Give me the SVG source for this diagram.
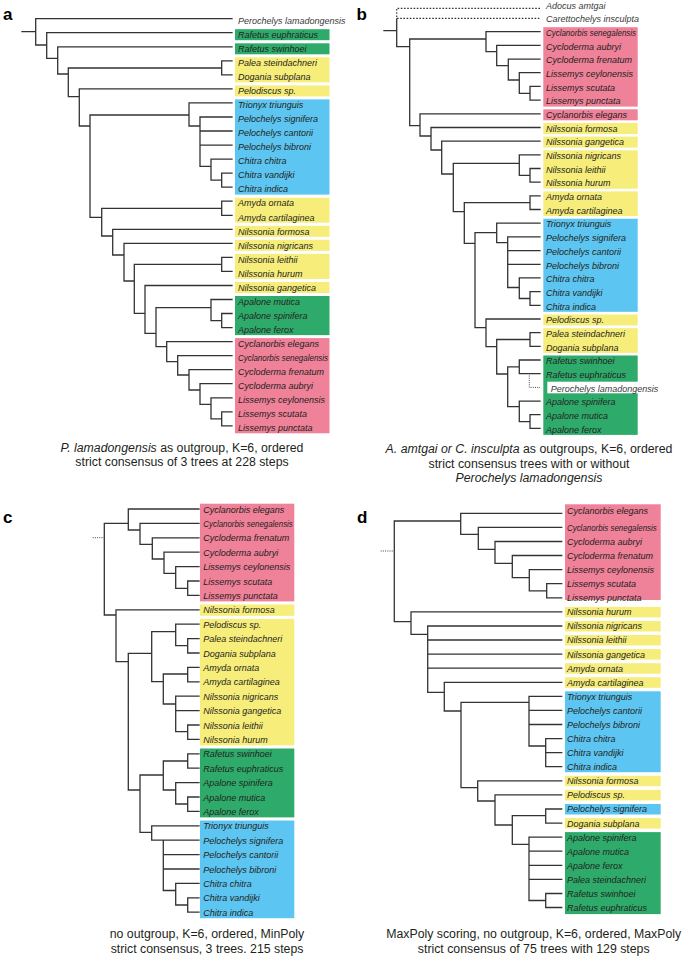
<svg xmlns="http://www.w3.org/2000/svg" width="685" height="958" viewBox="0 0 685 958">
<style>
.bg{fill:#fff}
.gr{fill:#2eab6b}.ye{fill:#f7ed7b}.bl{fill:#5dc5f1}.pk{fill:#ef8199}
.t{font-family:"Liberation Sans",Arial,sans-serif;font-style:italic;font-size:9px;fill:#231f20}
.tg{font-family:"Liberation Sans",Arial,sans-serif;font-style:italic;font-size:9px;fill:#3a3a3a}
.cap{font-family:"Liberation Sans",Arial,sans-serif;font-size:12.3px;fill:#231f20;text-anchor:middle}
.lab{font-family:"Liberation Sans",Arial,sans-serif;font-size:17px;font-weight:bold;fill:#000}
.br{fill:none;stroke:#333;stroke-width:1.3;stroke-linecap:square;stroke-linejoin:miter}
.dt{fill:none;stroke:#333;stroke-width:1.2;stroke-dasharray:1.6 1.6}
.df{fill:none;stroke:#444;stroke-width:1;stroke-dasharray:1 1.2}
</style>
<rect class="bg" x="0" y="0" width="685" height="958"/>

<!-- panel labels -->
<text class="lab" x="3" y="20">a</text>
<text class="lab" x="356.5" y="20">b</text>
<text class="lab" x="3" y="523">c</text>
<text class="lab" x="357" y="523">d</text>

<!-- clade highlight boxes -->
<g id="boxes-a">
<rect class="gr" x="235" y="29.2" width="94.5" height="11"/>
<rect class="gr" x="235" y="43.3" width="94.5" height="11"/>
<rect class="ye" x="235" y="57.3" width="94.5" height="25"/>
<rect class="ye" x="235" y="85.4" width="94.5" height="11"/>
<rect class="bl" x="235" y="99.4" width="94.5" height="95.2"/>
<rect class="ye" x="235" y="197.7" width="94.5" height="25"/>
<rect class="ye" x="235" y="225.8" width="94.5" height="11"/>
<rect class="ye" x="235" y="239.8" width="94.5" height="11"/>
<rect class="ye" x="235" y="253.9" width="94.5" height="25"/>
<rect class="ye" x="235" y="282" width="94.5" height="11"/>
<rect class="gr" x="235" y="296" width="94.5" height="39.1"/>
<rect class="pk" x="235" y="338.1" width="94.5" height="95.2"/>
</g>
<g id="boxes-b">
<rect class="pk" x="543.3" y="27.2" width="94.4" height="79.4"/>
<rect class="pk" x="543.3" y="109.3" width="94.4" height="11"/>
<rect class="ye" x="543.3" y="123" width="94.4" height="11"/>
<rect class="ye" x="543.3" y="136.6" width="94.4" height="11"/>
<rect class="ye" x="543.3" y="150.3" width="94.4" height="38.4"/>
<rect class="ye" x="543.3" y="191.4" width="94.4" height="24.7"/>
<rect class="bl" x="543.3" y="218.7" width="94.4" height="93.1"/>
<rect class="ye" x="543.3" y="314.5" width="94.4" height="11"/>
<rect class="ye" x="543.3" y="328.2" width="94.4" height="24.7"/>
<rect class="gr" x="543.3" y="355.5" width="94.4" height="79.4"/>
<rect fill="#fff" x="547.3" y="381.7" width="111" height="11.6"/>
</g>
<g id="boxes-c">
<rect class="pk" x="200" y="503.7" width="94.3" height="97.7"/>
<rect class="ye" x="200" y="604.5" width="94.3" height="11.3"/>
<rect class="ye" x="200" y="618.9" width="94.3" height="126.5"/>
<rect class="gr" x="200" y="748.5" width="94.3" height="68.9"/>
<rect class="bl" x="200" y="820.5" width="94.3" height="97.7"/>
</g>
<g id="boxes-d">
<rect class="pk" x="565" y="504.3" width="95.7" height="95.7"/>
<rect class="ye" x="565" y="606.9" width="95.7" height="10.5"/>
<rect class="ye" x="565" y="621" width="95.7" height="10.5"/>
<rect class="ye" x="565" y="635" width="95.7" height="10.5"/>
<rect class="ye" x="565" y="649.1" width="95.7" height="10.5"/>
<rect class="ye" x="565" y="663.2" width="95.7" height="10.5"/>
<rect class="ye" x="565" y="677.3" width="95.7" height="10.5"/>
<rect class="bl" x="565" y="691.3" width="95.7" height="80.9"/>
<rect class="ye" x="565" y="775.8" width="95.7" height="10.5"/>
<rect class="ye" x="565" y="789.9" width="95.7" height="10.5"/>
<rect class="bl" x="565" y="804" width="95.7" height="10.5"/>
<rect class="ye" x="565" y="818.1" width="95.7" height="10.5"/>
<rect class="gr" x="565" y="832.1" width="95.7" height="82"/>
</g>

<!-- connectors -->
<g id="connectors">
<path class="br" d="M22 31.7 H35.7 M232 18.7 H35.7 V45 H46.7 M232 32.7 H46.7 V58.3 H57.7 M232 46.8 H57.7 V74 H68.3 M221.7 68 H68.3 V96.7 H79.3 M232 60.8 H221.7 V74.9 H232 M232 88.9 H79.3 V126 H90 M189 115 H90 V217.3 H101.7 M232 102.9 H189 V126 H200 M232 117 H200 V166.3 H211 M200 131 H232 M200 145.1 H232 M232 159.1 H211 V180.2 H221.7 M232 173.1 H221.7 V187.2 H232 M221.7 208.3 H101.7 V236 H112.7 M232 201.2 H221.7 V215.3 H232 M232 229.3 H112.7 V255 H124 M232 243.3 H124 V281 H134.3 M221.7 264.4 H134.3 V313.3 H145 M232 257.4 H221.7 V271.4 H232 M232 285.5 H145 V333.3 H156 M211 307.7 H156 V346.7 H166.7 M232 299.5 H211 V320.6 H221.7 M232 313.5 H221.7 V327.6 H232 M232 341.6 H166.7 V361.7 H177.7 M232 355.7 H177.7 V375 H189 M232 369.7 H189 V390 H200 M232 383.7 H200 V404.3 H211 M232 397.8 H211 V418.8 H221.7 M232 411.8 H221.7 V425.9 H232"/>
<path class="dt" d="M540 8.3 H396.7 V18.3 H540"/>
<path class="br" d="M384 30.7 H396.7 M396.7 19 V46.7 H409.7 M486 39 H409.7 V125.7 H420 M540 31.7 H486 V51.7 H496.7 M540 45.4 H496.7 V65.7 H508.3 M540 59.1 H508.3 V80 H519.3 M540 72.7 H519.3 V93.3 H530 M540 86.4 H530 V100.1 H540 M540 113.8 H420 V136 H431 M540 127.5 H431 V150 H441.7 M540 141.1 H441.7 V174 H453.3 M519.3 163.3 H453.3 V211.7 H464.3 M540 154.8 H519.3 V175.3 H530 M540 168.5 H530 V182.2 H540 M530 202.7 H464.3 V243.3 H475 M540 195.9 H530 V209.5 H540 M496.7 232.7 H475 V327.7 H486 M540 223.2 H496.7 V242.7 H507.7 M540 236.9 H507.7 V287.5 H519.3 M507.7 250.6 H540 M507.7 264.3 H540 M540 277.9 H519.3 V298.5 H530 M540 291.6 H530 V305.3 H540 M540 319 H486 V346.7 H496.7 M530 339.5 H496.7 V374 H507.7 M540 332.7 H530 V346.3 H540 M519.3 366.9 H507.7 V406.7 H519.3 M540 360 H519.3 V373.7 H540 M540 401.1 H519.3 V421.6 H530 M540 414.7 H530 V428.4 H540"/>
<path class="df" d="M529.3 375.5 V387.4 H540"/>
<path class="df" d="M92.7 537.7 H104"/>
<path class="br" d="M128.3 523.3 H104.3 V615 H116 M199 509 H128.3 V530 H140 M199 523.4 H140 V544.3 H152.3 M199 537.8 H152.3 V559 H164 M199 552.2 H164 V573.3 H175.7 M199 566.6 H175.7 V588.3 H187.7 M199 581 H187.7 V595.4 H199 M199 609.8 H116 V661.7 H128.3 M151.7 653.3 H128.3 V790 H140 M175.7 631.7 H151.7 V681.7 H163.3 M199 624.2 H175.7 V645.7 H187.7 M199 638.6 H187.7 V653 H199 M187.7 674 H163.3 V704 H175.7 M199 667.4 H187.7 V681.8 H199 M199 696.2 H175.7 V731.7 H187.7 M175.7 710.6 H199 M199 725 H187.7 V739.4 H199 M163.3 775 H140 V832.3 H151.7 M187.7 761 H163.3 V790 H175.7 M199 753.8 H187.7 V768.2 H199 M199 782.6 H175.7 V804 H187.7 M199 797 H187.7 V811.4 H199 M199 825.8 H151.7 V840.2 H163.3 M199 840.2 H163.3 V890.5 H175.7 M163.3 854.6 H199 M163.3 869 H199 M199 883.4 H175.7 V905 H187.7 M199 897.8 H187.7 V912.2 H199"/>
<path class="df" d="M380.7 551 H394"/>
<path class="br" d="M460.7 521 H394.3 V621.7 H411 M561.7 513.3 H460.7 V534.3 H478.3 M561.7 527.4 H478.3 V549.3 H495 M561.7 541.5 H495 V563.3 H512.3 M561.7 555.5 H512.3 V577.7 H529.3 M561.7 569.6 H529.3 V590.8 H546.7 M561.7 583.7 H546.7 V597.8 H561.7 M561.7 611.9 H411 V634.3 H427.7 M561.7 626 H427.7 V692.3 H444.3 M427.7 640 H561.7 M427.7 654.1 H561.7 M427.7 668.2 H561.7 M561.7 682.3 H444.3 V711 H461 M529 702.3 H461 V787.7 H477.7 M561.7 696.3 H529 V746 H545.7 M529 710.4 H561.7 M529 724.5 H561.7 M561.7 738.6 H545.7 V766.7 H561.7 M545.7 752.7 H561.7 M561.7 780.8 H477.7 V801 H495 M561.7 794.9 H495 V825 H512.3 M545.7 815.7 H512.3 V844.3 H529 M561.7 809 H545.7 V823.1 H561.7 M561.7 837.1 H529 V900.5 H545.7 M529 851.2 H561.7 M529 865.3 H561.7 M529 879.4 H561.7 M561.7 893.5 H545.7 V907.5 H561.7"/>
</g>

<!-- panel a taxa -->
<g id="a-perochelys-lamadongensis"><text class="tg" x="238" y="23.9">Perochelys lamadongensis</text></g>
<g id="a-rafetus-euphraticus"><text class="t" x="238" y="37.9">Rafetus euphraticus</text></g>
<g id="a-rafetus-swinhoei"><text class="t" x="238" y="52">Rafetus swinhoei</text></g>
<g id="a-palea-steindachneri"><text class="t" x="238" y="66">Palea steindachneri</text></g>
<g id="a-dogania-subplana"><text class="t" x="238" y="80.1">Dogania subplana</text></g>
<g id="a-pelodiscus-sp"><text class="t" x="238" y="94.1">Pelodiscus sp.</text></g>
<g id="a-trionyx-triunguis"><text class="t" x="238" y="108.1">Trionyx triunguis</text></g>
<g id="a-pelochelys-signifera"><text class="t" x="238" y="122.2">Pelochelys signifera</text></g>
<g id="a-pelochelys-cantorii"><text class="t" x="238" y="136.2">Pelochelys cantorii</text></g>
<g id="a-pelochelys-bibroni"><text class="t" x="238" y="150.3">Pelochelys bibroni</text></g>
<g id="a-chitra-chitra"><text class="t" x="238" y="164.3">Chitra chitra</text></g>
<g id="a-chitra-vandijki"><text class="t" x="238" y="178.3">Chitra vandijki</text></g>
<g id="a-chitra-indica"><text class="t" x="238" y="192.4">Chitra indica</text></g>
<g id="a-amyda-ornata"><text class="t" x="238" y="206.4">Amyda ornata</text></g>
<g id="a-amyda-cartilaginea"><text class="t" x="238" y="220.5">Amyda cartilaginea</text></g>
<g id="a-nilssonia-formosa"><text class="t" x="238" y="234.5">Nilssonia formosa</text></g>
<g id="a-nilssonia-nigricans"><text class="t" x="238" y="248.5">Nilssonia nigricans</text></g>
<g id="a-nilssonia-leithii"><text class="t" x="238" y="262.6">Nilssonia leithii</text></g>
<g id="a-nilssonia-hurum"><text class="t" x="238" y="276.6">Nilssonia hurum</text></g>
<g id="a-nilssonia-gangetica"><text class="t" x="238" y="290.7">Nilssonia gangetica</text></g>
<g id="a-apalone-mutica"><text class="t" x="238" y="304.7">Apalone mutica</text></g>
<g id="a-apalone-spinifera"><text class="t" x="238" y="318.7">Apalone spinifera</text></g>
<g id="a-apalone-ferox"><text class="t" x="238" y="332.8">Apalone ferox</text></g>
<g id="a-cyclanorbis-elegans"><text class="t" x="238" y="346.8">Cyclanorbis elegans</text></g>
<g id="a-cyclanorbis-senegalensis"><text class="t" x="238" y="360.9" textLength="90" lengthAdjust="spacingAndGlyphs">Cyclanorbis senegalensis</text></g>
<g id="a-cycloderma-frenatum"><text class="t" x="238" y="374.9">Cycloderma frenatum</text></g>
<g id="a-cycloderma-aubryi"><text class="t" x="238" y="388.9">Cycloderma aubryi</text></g>
<g id="a-lissemys-ceylonensis"><text class="t" x="238" y="403">Lissemys ceylonensis</text></g>
<g id="a-lissemys-scutata"><text class="t" x="238" y="417">Lissemys scutata</text></g>
<g id="a-lissemys-punctata"><text class="t" x="238" y="431.1">Lissemys punctata</text></g>

<!-- panel b taxa -->
<g id="b-adocus-amtgai"><text class="tg" x="546" y="9">Adocus amtgai</text></g>
<g id="b-carettochelys-insculpta"><text class="tg" x="546" y="22.3">Carettochelys insculpta</text></g>
<g id="b-cyclanorbis-senegalensis"><text class="t" x="546" y="35.9" textLength="90" lengthAdjust="spacingAndGlyphs">Cyclanorbis senegalensis</text></g>
<g id="b-cycloderma-aubryi"><text class="t" x="546" y="49.6">Cycloderma aubryi</text></g>
<g id="b-cycloderma-frenatum"><text class="t" x="546" y="63.3">Cycloderma frenatum</text></g>
<g id="b-lissemys-ceylonensis"><text class="t" x="546" y="76.9">Lissemys ceylonensis</text></g>
<g id="b-lissemys-scutata"><text class="t" x="546" y="90.6">Lissemys scutata</text></g>
<g id="b-lissemys-punctata"><text class="t" x="546" y="104.3">Lissemys punctata</text></g>
<g id="b-cyclanorbis-elegans"><text class="t" x="546" y="118">Cyclanorbis elegans</text></g>
<g id="b-nilssonia-formosa"><text class="t" x="546" y="131.7">Nilssonia formosa</text></g>
<g id="b-nilssonia-gangetica"><text class="t" x="546" y="145.3">Nilssonia gangetica</text></g>
<g id="b-nilssonia-nigricans"><text class="t" x="546" y="159">Nilssonia nigricans</text></g>
<g id="b-nilssonia-leithii"><text class="t" x="546" y="172.7">Nilssonia leithii</text></g>
<g id="b-nilssonia-hurum"><text class="t" x="546" y="186.4">Nilssonia hurum</text></g>
<g id="b-amyda-ornata"><text class="t" x="546" y="200.1">Amyda ornata</text></g>
<g id="b-amyda-cartilaginea"><text class="t" x="546" y="213.7">Amyda cartilaginea</text></g>
<g id="b-trionyx-triunguis"><text class="t" x="546" y="227.4">Trionyx triunguis</text></g>
<g id="b-pelochelys-signifera"><text class="t" x="546" y="241.1">Pelochelys signifera</text></g>
<g id="b-pelochelys-cantorii"><text class="t" x="546" y="254.8">Pelochelys cantorii</text></g>
<g id="b-pelochelys-bibroni"><text class="t" x="546" y="268.5">Pelochelys bibroni</text></g>
<g id="b-chitra-chitra"><text class="t" x="546" y="282.1">Chitra chitra</text></g>
<g id="b-chitra-vandijki"><text class="t" x="546" y="295.8">Chitra vandijki</text></g>
<g id="b-chitra-indica"><text class="t" x="546" y="309.5">Chitra indica</text></g>
<g id="b-pelodiscus-sp"><text class="t" x="546" y="323.2">Pelodiscus sp.</text></g>
<g id="b-palea-steindachneri"><text class="t" x="546" y="336.9">Palea steindachneri</text></g>
<g id="b-dogania-subplana"><text class="t" x="546" y="350.5">Dogania subplana</text></g>
<g id="b-rafetus-swinhoei"><text class="t" x="546" y="364.2">Rafetus swinhoei</text></g>
<g id="b-rafetus-euphraticus"><text class="t" x="546" y="377.9">Rafetus euphraticus</text></g>
<g id="b-perochelys-lamadongensis"><text class="tg" x="550.7" y="391.6">Perochelys lamadongensis</text></g>
<g id="b-apalone-spinifera"><text class="t" x="546" y="405.3">Apalone spinifera</text></g>
<g id="b-apalone-mutica"><text class="t" x="546" y="418.9">Apalone mutica</text></g>
<g id="b-apalone-ferox"><text class="t" x="546" y="432.6">Apalone ferox</text></g>

<!-- panel c taxa -->
<g id="c-cyclanorbis-elegans"><text class="t" x="203.3" y="512.5">Cyclanorbis elegans</text></g>
<g id="c-cyclanorbis-senegalensis"><text class="t" x="203.3" y="526.9" textLength="89.5" lengthAdjust="spacingAndGlyphs">Cyclanorbis senegalensis</text></g>
<g id="c-cycloderma-frenatum"><text class="t" x="203.3" y="541.3">Cycloderma frenatum</text></g>
<g id="c-cycloderma-aubryi"><text class="t" x="203.3" y="555.7">Cycloderma aubryi</text></g>
<g id="c-lissemys-ceylonensis"><text class="t" x="203.3" y="570.1">Lissemys ceylonensis</text></g>
<g id="c-lissemys-scutata"><text class="t" x="203.3" y="584.5">Lissemys scutata</text></g>
<g id="c-lissemys-punctata"><text class="t" x="203.3" y="598.9">Lissemys punctata</text></g>
<g id="c-nilssonia-formosa"><text class="t" x="203.3" y="613.3">Nilssonia formosa</text></g>
<g id="c-pelodiscus-sp"><text class="t" x="203.3" y="627.7">Pelodiscus sp.</text></g>
<g id="c-palea-steindachneri"><text class="t" x="203.3" y="642.1">Palea steindachneri</text></g>
<g id="c-dogania-subplana"><text class="t" x="203.3" y="656.5">Dogania subplana</text></g>
<g id="c-amyda-ornata"><text class="t" x="203.3" y="670.9">Amyda ornata</text></g>
<g id="c-amyda-cartilaginea"><text class="t" x="203.3" y="685.3">Amyda cartilaginea</text></g>
<g id="c-nilssonia-nigricans"><text class="t" x="203.3" y="699.7">Nilssonia nigricans</text></g>
<g id="c-nilssonia-gangetica"><text class="t" x="203.3" y="714.1">Nilssonia gangetica</text></g>
<g id="c-nilssonia-leithii"><text class="t" x="203.3" y="728.5">Nilssonia leithii</text></g>
<g id="c-nilssonia-hurum"><text class="t" x="203.3" y="742.9">Nilssonia hurum</text></g>
<g id="c-rafetus-swinhoei"><text class="t" x="203.3" y="757.3">Rafetus swinhoei</text></g>
<g id="c-rafetus-euphraticus"><text class="t" x="203.3" y="771.7">Rafetus euphraticus</text></g>
<g id="c-apalone-spinifera"><text class="t" x="203.3" y="786.1">Apalone spinifera</text></g>
<g id="c-apalone-mutica"><text class="t" x="203.3" y="800.5">Apalone mutica</text></g>
<g id="c-apalone-ferox"><text class="t" x="203.3" y="814.9">Apalone ferox</text></g>
<g id="c-trionyx-triunguis"><text class="t" x="203.3" y="829.3">Trionyx triunguis</text></g>
<g id="c-pelochelys-signifera"><text class="t" x="203.3" y="843.7">Pelochelys signifera</text></g>
<g id="c-pelochelys-cantorii"><text class="t" x="203.3" y="858.1">Pelochelys cantorii</text></g>
<g id="c-pelochelys-bibroni"><text class="t" x="203.3" y="872.5">Pelochelys bibroni</text></g>
<g id="c-chitra-chitra"><text class="t" x="203.3" y="886.9">Chitra chitra</text></g>
<g id="c-chitra-vandijki"><text class="t" x="203.3" y="901.3">Chitra vandijki</text></g>
<g id="c-chitra-indica"><text class="t" x="203.3" y="915.7">Chitra indica</text></g>

<!-- panel d taxa -->
<g id="d-cyclanorbis-elegans"><text class="t" x="567" y="514">Cyclanorbis elegans</text></g>
<g id="d-cyclanorbis-senegalensis"><text class="t" x="567" y="530.8" textLength="89.7" lengthAdjust="spacingAndGlyphs">Cyclanorbis senegalensis</text></g>
<g id="d-cycloderma-aubryi"><text class="t" x="567" y="544.9">Cycloderma aubryi</text></g>
<g id="d-cycloderma-frenatum"><text class="t" x="567" y="558.9">Cycloderma frenatum</text></g>
<g id="d-lissemys-ceylonensis"><text class="t" x="567" y="573">Lissemys ceylonensis</text></g>
<g id="d-lissemys-scutata"><text class="t" x="567" y="587.1">Lissemys scutata</text></g>
<g id="d-lissemys-punctata"><text class="t" x="567" y="601.2">Lissemys punctata</text></g>
<g id="d-nilssonia-hurum"><text class="t" x="567" y="615.3">Nilssonia hurum</text></g>
<g id="d-nilssonia-nigricans"><text class="t" x="567" y="629.4">Nilssonia nigricans</text></g>
<g id="d-nilssonia-leithii"><text class="t" x="567" y="643.4">Nilssonia leithii</text></g>
<g id="d-nilssonia-gangetica"><text class="t" x="567" y="657.5">Nilssonia gangetica</text></g>
<g id="d-amyda-ornata"><text class="t" x="567" y="671.6">Amyda ornata</text></g>
<g id="d-amyda-cartilaginea"><text class="t" x="567" y="685.7">Amyda cartilaginea</text></g>
<g id="d-trionyx-triunguis"><text class="t" x="567" y="699.7">Trionyx triunguis</text></g>
<g id="d-pelochelys-cantorii"><text class="t" x="567" y="713.8">Pelochelys cantorii</text></g>
<g id="d-pelochelys-bibroni"><text class="t" x="567" y="727.9">Pelochelys bibroni</text></g>
<g id="d-chitra-chitra"><text class="t" x="567" y="742">Chitra chitra</text></g>
<g id="d-chitra-vandijki"><text class="t" x="567" y="756.1">Chitra vandijki</text></g>
<g id="d-chitra-indica"><text class="t" x="567" y="770.1">Chitra indica</text></g>
<g id="d-nilssonia-formosa"><text class="t" x="567" y="784.2">Nilssonia formosa</text></g>
<g id="d-pelodiscus-sp"><text class="t" x="567" y="798.3">Pelodiscus sp.</text></g>
<g id="d-pelochelys-signifera"><text class="t" x="567" y="812.4">Pelochelys signifera</text></g>
<g id="d-dogania-subplana"><text class="t" x="567" y="826.5">Dogania subplana</text></g>
<g id="d-apalone-spinifera"><text class="t" x="567" y="840.5">Apalone spinifera</text></g>
<g id="d-apalone-mutica"><text class="t" x="567" y="854.6">Apalone mutica</text></g>
<g id="d-apalone-ferox"><text class="t" x="567" y="868.7">Apalone ferox</text></g>
<g id="d-palea-steindachneri"><text class="t" x="567" y="882.8">Palea steindachneri</text></g>
<g id="d-rafetus-swinhoei"><text class="t" x="567" y="896.9">Rafetus swinhoei</text></g>
<g id="d-rafetus-euphraticus"><text class="t" x="567" y="910.9">Rafetus euphraticus</text></g>

<!-- captions -->
<g id="caption-a">
<text class="cap" x="182" y="451.6"><tspan font-style="italic">P. lamadongensis</tspan> as outgroup, K=6, ordered</text>
<text class="cap" x="182" y="466">strict consensus of 3 trees at 228 steps</text>
</g>
<g id="caption-b">
<text class="cap" x="529" y="452.6"><tspan font-style="italic">A. amtgai or C. insculpta</tspan> as outgroups, K=6, ordered</text>
<text class="cap" x="529" y="467.6">strict consensus trees with or without</text>
<text class="cap" x="529" y="481.6" font-style="italic">Perochelys lamadongensis</text>
</g>
<g id="caption-c">
<text class="cap" x="207" y="938.3">no outgroup, K=6, ordered, MinPoly</text>
<text class="cap" x="207" y="952.6">strict consensus, 3 trees. 215 steps</text>
</g>
<g id="caption-d">
<text class="cap" x="533.7" y="937.6">MaxPoly scoring, no outgroup, K=6, ordered, MaxPoly</text>
<text class="cap" x="533.7" y="952.6">strict consensus of 75 trees with 129 steps</text>
</g>
</svg>
